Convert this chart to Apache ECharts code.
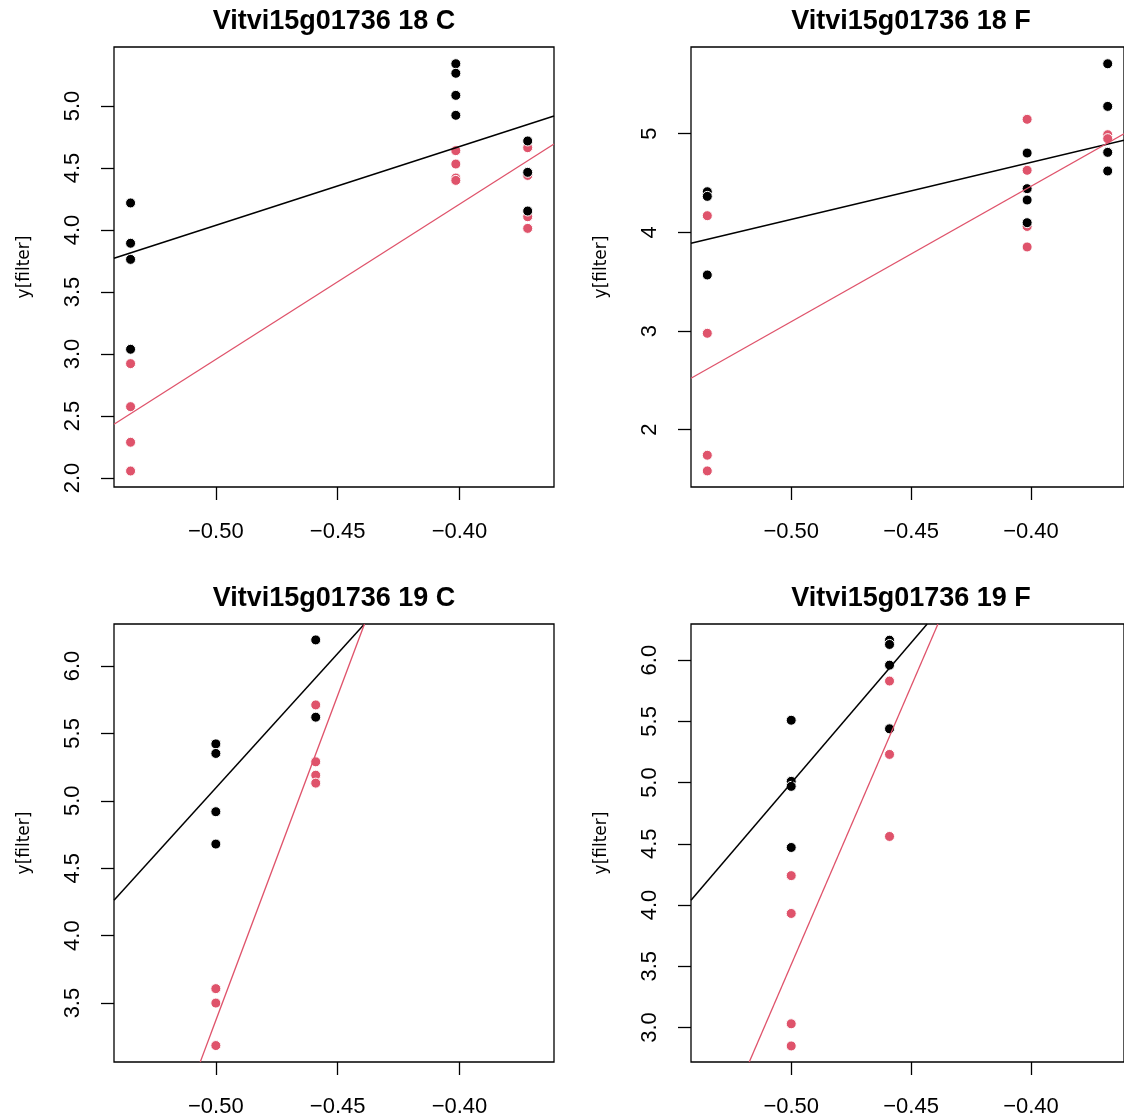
<!DOCTYPE html>
<html>
<head>
<meta charset="utf-8">
<script src="https://cdn.jsdelivr.net/npm/echarts@6/dist/echarts.min.js"></script>
<style>
    html, body { margin: 0; padding: 0; background: #fff; }
    #main { width: 1124px; height: 1118px; }
</style>
</head>
<body>
<div id="main"></div>
<script>
// panel titles
var titles = ['Vitvi15g01736 18 C', 'Vitvi15g01736 18 F', 'Vitvi15g01736 19 C', 'Vitvi15g01736 19 F'];

// x axis (shared)
var xRange = [-0.5418, -0.3612];
var xTicks = [-0.50, -0.45, -0.40];

// y axes
var yRanges = [[1.927, 5.476], [1.419, 5.879], [3.063, 6.311], [2.718, 6.295]];
var yTicks = [
    [2.0, 2.5, 3.0, 3.5, 4.0, 4.5, 5.0],
    [2, 3, 4, 5],
    [3.5, 4.0, 4.5, 5.0, 5.5, 6.0],
    [3.0, 3.5, 4.0, 4.5, 5.0, 5.5, 6.0]
];
var yDigits = [1, 0, 1, 1];

// points, black group
var black18C = [[-0.535, 4.218], [-0.535, 3.893], [-0.535, 3.763], [-0.535, 3.038],
    [-0.4015, 5.341], [-0.4015, 5.264], [-0.4015, 5.086], [-0.4015, 4.925],
    [-0.372, 4.718], [-0.372, 4.465], [-0.372, 4.153]];
var black18F = [[-0.535, 4.412], [-0.535, 4.365], [-0.535, 3.568],
    [-0.4016, 4.804], [-0.4016, 4.443], [-0.4016, 4.328], [-0.4016, 4.098],
    [-0.368, 5.709], [-0.368, 5.277], [-0.368, 4.811], [-0.368, 4.622]];
var black19C = [[-0.50, 5.422], [-0.50, 5.351], [-0.50, 4.919], [-0.50, 4.679],
    [-0.459, 6.193], [-0.459, 5.62]];
var black19F = [[-0.50, 5.509], [-0.50, 5.01], [-0.50, 4.969], [-0.50, 4.470],
    [-0.459, 6.163], [-0.459, 6.128], [-0.459, 5.959], [-0.459, 5.439]];

// points, red group
var red18C = [[-0.535, 2.922], [-0.535, 2.575], [-0.535, 2.288], [-0.535, 2.056],
    [-0.4015, 4.640], [-0.4015, 4.532], [-0.4015, 4.419], [-0.4015, 4.40],
    [-0.372, 4.664], [-0.372, 4.44], [-0.372, 4.107], [-0.372, 4.013]];
var red18F = [[-0.535, 4.169], [-0.535, 2.977], [-0.535, 1.741], [-0.535, 1.582],
    [-0.4016, 5.146], [-0.4016, 4.629], [-0.4016, 4.44], [-0.4016, 4.06], [-0.4016, 3.852],
    [-0.368, 4.99], [-0.368, 4.95]];
var red19C = [[-0.50, 3.607], [-0.50, 3.50], [-0.50, 3.185],
    [-0.459, 5.711], [-0.459, 5.289], [-0.459, 5.19], [-0.459, 5.131]];
var red19F = [[-0.50, 4.240], [-0.50, 3.931], [-0.50, 3.030], [-0.50, 2.849],
    [-0.459, 5.829], [-0.459, 5.23], [-0.459, 4.560]];

// fitted lines (two ends)
var blackFit = [
    [[-0.5418, 3.772], [-0.3612, 4.919]],
    [[-0.5418, 3.889], [-0.3612, 4.934]],
    [[-0.5418, 4.262], [-0.439, 6.311]],
    [[-0.5418, 4.039], [-0.4433, 6.295]]
];
var redFit = [
    [[-0.5418, 2.433], [-0.3612, 4.694]],
    [[-0.5418, 2.521], [-0.3612, 4.999]],
    [[-0.5064, 3.063], [-0.439, 6.311]],
    [[-0.5175, 2.718], [-0.4388, 6.295]]
];

var blackPts = [black18C, black18F, black19C, black19F];
var redPts = [red18C, red18F, red19C, red19F];

var RED = '#DF536B';
var FONT = 'Liberation Sans';

var chart = echarts.init(document.getElementById('main'));

var grids = [
    {left: 114, top: 47, width: 440, height: 440},
    {left: 691, top: 47, width: 440, height: 440},
    {left: 114, top: 624, width: 440, height: 439},
    {left: 691, top: 624, width: 440, height: 439}
];

function fmtX(v) {
    return (v < 0 ? '\u2212' : '') + Math.abs(v).toFixed(2);
}

var option = {
    backgroundColor: '#fff',
    animation: false,
    title: [],
    grid: [],
    xAxis: [],
    yAxis: [],
    series: []
};

for (var i = 0; i < 4; i++) {
    var g = grids[i];
    option.grid.push({
        left: g.left, top: g.top, width: g.width, height: g.height,
        show: true, borderColor: '#000', borderWidth: 1.3,
        backgroundColor: 'transparent'
    });
    option.title.push({
        text: titles[i],
        left: g.left + g.width / 2,
        top: g.top - 39,
        textAlign: 'center',
        padding: 0,
        textStyle: {fontFamily: FONT, fontWeight: 'bold', fontSize: 27, color: '#000'}
    });
    option.xAxis.push({
        type: 'value', gridIndex: i,
        min: xRange[0], max: xRange[1],
        axisLine: {show: false},
        splitLine: {show: false},
        axisTick: {show: true, length: 13, customValues: xTicks, lineStyle: {color: '#000', width: 1.3}},
        axisLabel: {
            customValues: xTicks, margin: 34, formatter: fmtX,
            fontFamily: FONT, fontSize: 22, color: '#000'
        }
    });
    (function (d) {
        option.yAxis.push({
            type: 'value', gridIndex: i,
            min: yRanges[i][0], max: yRanges[i][1],
            name: 'y[filter]', nameLocation: 'middle', nameRotate: 90, nameGap: 81,
            nameTextStyle: {fontFamily: 'DejaVu Sans', fontSize: 17, color: '#000'},
            axisLine: {show: false},
            splitLine: {show: false},
            axisTick: {show: true, length: 13, customValues: yTicks[i], lineStyle: {color: '#000', width: 1.3}},
            axisLabel: {
                customValues: yTicks[i], rotate: 90, margin: 30,
                formatter: function (v) { return v.toFixed(d); },
                fontFamily: FONT, fontSize: 22, color: '#000'
            }
        });
    })(yDigits[i]);

    option.series.push({
        type: 'scatter', xAxisIndex: i, yAxisIndex: i,
        data: redPts[i], symbolSize: 10, z: 2,
        itemStyle: {color: RED, borderColor: '#fff', borderWidth: 1, opacity: 1}
    });
    option.series.push({
        type: 'scatter', xAxisIndex: i, yAxisIndex: i,
        data: blackPts[i], symbolSize: 10, z: 3,
        itemStyle: {color: '#000', borderColor: '#fff', borderWidth: 1, opacity: 1}
    });
    option.series.push({
        type: 'line', xAxisIndex: i, yAxisIndex: i,
        data: blackFit[i], showSymbol: false, symbol: 'none', clip: true, z: 4,
        lineStyle: {color: '#000', width: 1.5}
    });
    option.series.push({
        type: 'line', xAxisIndex: i, yAxisIndex: i,
        data: redFit[i], showSymbol: false, symbol: 'none', clip: true, z: 4,
        lineStyle: {color: RED, width: 1.3}
    });
}

chart.setOption(option);
</script>
</body>
</html>
